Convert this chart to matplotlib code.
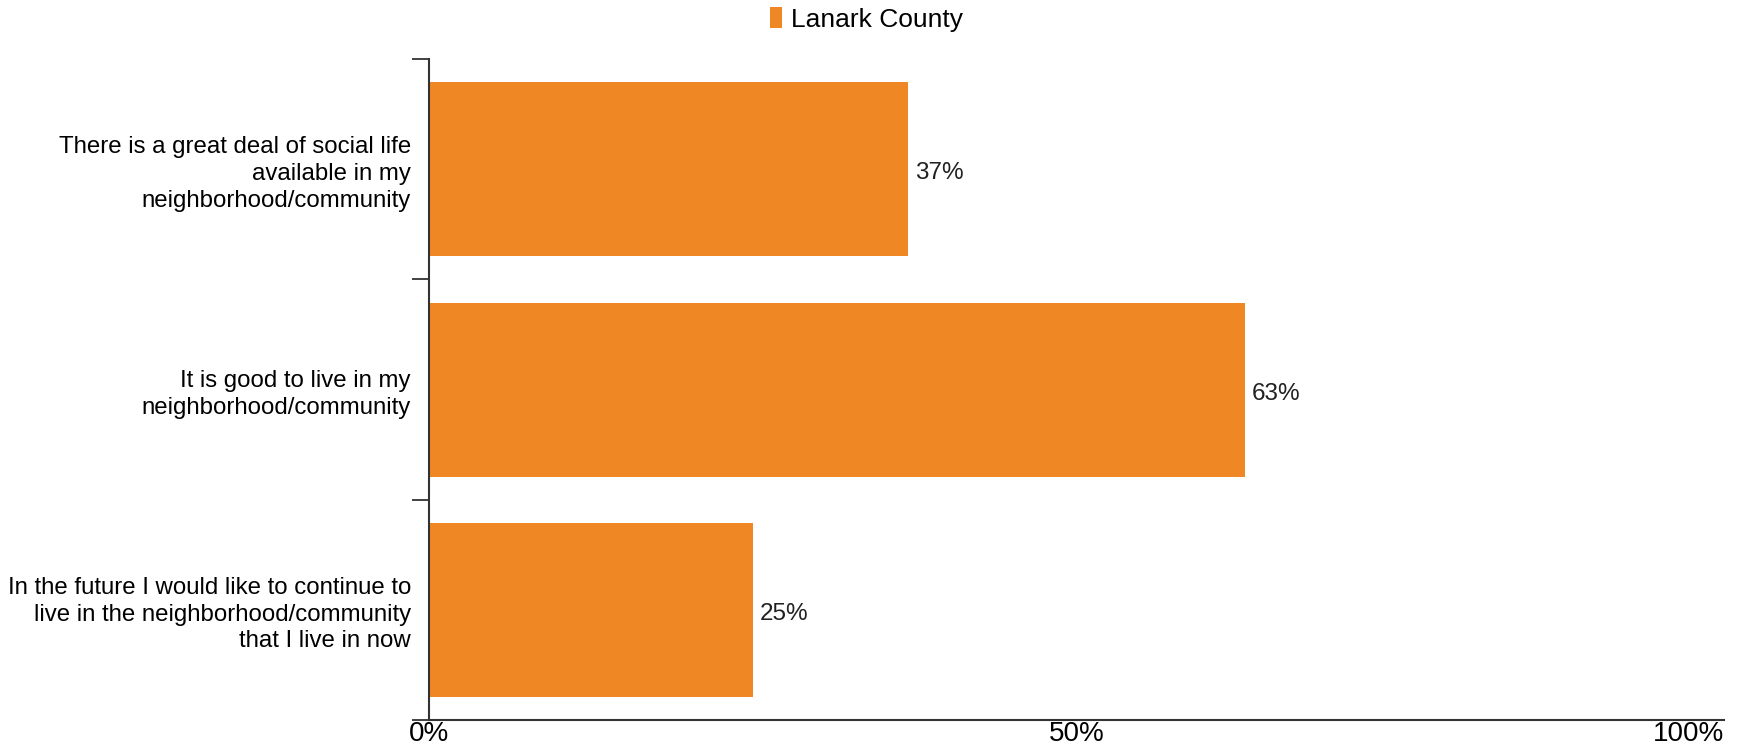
import matplotlib
matplotlib.use("Agg")
import matplotlib.pyplot as plt
from matplotlib.ticker import FixedLocator

plt.rcParams['font.family'] = ['Liberation Sans', 'DejaVu Sans']

categories = [
    "There is a great deal of social life\navailable in my\nneighborhood/community",
    "It is good to live in my\nneighborhood/community",
    "In the future I would like to continue to\nlive in the neighborhood/community\nthat I live in now",
]
values = [37, 63, 25]
series_name = "Lanark County"
x_ticks = [0, 50, 100]
x_tick_labels = ["0%", "50%", "100%"]

bar_color = "#EF8824"
axis_color = "#333333"

fig = plt.figure(figsize=(17.44, 7.43), dpi=100)
ax = fig.add_axes([0.246, 0.031, 0.7425, 0.8894])

ypos = list(range(len(categories)))
ax.barh(ypos, values, height=0.79, color=bar_color, label=series_name)

ax.set_xlim(0, 100)
ax.set_ylim(len(categories) - 0.5, -0.5)

# category labels sit on the bar centres, tick marks on the band edges
ax.set_yticks(ypos)
ax.set_yticklabels(categories, fontsize=17.3, linespacing=1.27, ha='right')
ax.tick_params(axis='y', which='major', length=0, pad=13)
ax.yaxis.set_minor_locator(FixedLocator([i - 0.5 for i in range(len(categories) + 1)]))
ax.tick_params(axis='y', which='minor', length=12, width=1.3, color=axis_color, direction='out')

ax.set_xticks(x_ticks)
ax.set_xticklabels(x_tick_labels, fontsize=20)
ax.tick_params(axis='x', length=0, pad=1)
xlabels = ax.get_xticklabels()
xlabels[-1].set_ha('right')

for s in ['top', 'right']:
    ax.spines[s].set_visible(False)
for s in ['left', 'bottom']:
    ax.spines[s].set_color(axis_color)
    ax.spines[s].set_linewidth(1.5)

for y, v in zip(ypos, values):
    ax.annotate(f"{v}%", xy=(v, y), xytext=(5, -3), textcoords='offset points',
                va='center', ha='left', fontsize=17.5, color='#222222')

fig.legend(loc='upper center', bbox_to_anchor=(0.497, 1.022), frameon=False,
           fontsize=19, handlelength=0.45, handleheight=0.85, handletextpad=0.35)

fig.savefig("out.png", dpi=100)
